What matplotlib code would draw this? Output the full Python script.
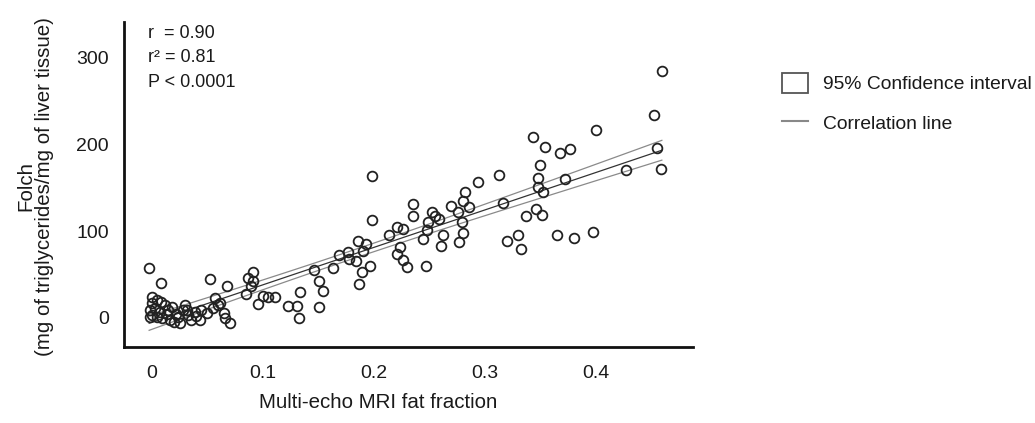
import numpy as np
import matplotlib
matplotlib.use('Agg')
import matplotlib.pyplot as plt
from matplotlib.patches import Patch
from matplotlib.lines import Line2D

plt.rcParams['font.family'] = ['Liberation Sans', 'DejaVu Sans']

# multi-echo MRI fat fraction vs Folch triglycerides
fat_fraction = [
    0.459, 0.452, 0.400, 0.343, 0.354, 0.367, 0.376, 0.349, 0.313, 0.455,
    0.458, 0.427, 0.372, 0.348, 0.348, 0.352, 0.316, 0.346, 0.351, 0.337,
    0.365, 0.380, 0.397, 0.330, 0.320, 0.332,
    0.198, 0.294, 0.282, 0.280, 0.269, 0.286, 0.276, 0.235, 0.235, 0.252,
    0.255, 0.259, 0.249, 0.248, 0.244, 0.198, 0.221, 0.226, 0.214, 0.279,
    0.280, 0.262, 0.277, 0.260, 0.224, 0.221, 0.226, 0.230, 0.247, 0.197,
    0.186, 0.193, 0.190, 0.177, 0.169, 0.178, 0.184, 0.189, 0.187, 0.163,
    0.146, 0.151, 0.154, 0.151, 0.134, 0.131, 0.123, 0.133, 0.091, 0.087,
    0.091, 0.090, 0.068, 0.085, 0.100, 0.105, 0.111, 0.096, 0.062, 0.065,
    0.071,
    -0.002, 0.009, 0.053, 0.001, 0.005, 0.009, 0.012, 0.001, -0.001, 0.001,
    -0.001, 0.005, 0.008, 0.015, 0.019, 0.010, 0.020, 0.024, 0.028, 0.030,
    0.033, 0.036, 0.026, 0.039, 0.045, 0.050, 0.055, 0.057, 0.060, 0.044,
    0.066, 0.003, 0.014, 0.017, 0.022, 0.032, 0.040,
]
folch = [
    284, 234, 216, 209, 197, 190, 195, 176, 165, 196,
    172, 170, 160, 161, 151, 145, 133, 125, 119, 117,
    96, 92, 99, 96, 89, 80,
    164, 157, 145, 135, 129, 128, 122, 131, 117, 122,
    118, 114, 110, 101, 91, 113, 105, 103, 96, 110,
    98, 95, 88, 83, 82, 74, 67, 59, 60, 60,
    89, 85, 77, 76, 73, 68, 66, 53, 39, 58,
    55, 42, 31, 13, 30, 14, 14, 0, 53, 46,
    43, 37, 37, 27, 25, 24, 24, 16, 17, 6,
    -6,
    58, 40, 45, 24, 21, 18, 15, 17, 9, 3,
    1, 1, 7, 9, 13, 0, -5, 1, 9, 15,
    3, -2, -6, 7, 9, 6, 12, 23, 15, -2,
    0, 12, 4, -2, 5, 9, 2,
]
stats_text = ['r  = 0.90', 'r\u00b2 = 0.81', 'P < 0.0001']
x_ticks = [0, 0.1, 0.2, 0.3, 0.4]
y_ticks = [0, 100, 200, 300]

x = np.array(fat_fraction)
y = np.array(folch)

# linear fit + 95% CI of the mean
n = len(x)
slope, icpt = np.polyfit(x, y, 1)
resid = y - (slope * x + icpt)
s = np.sqrt(np.sum(resid ** 2) / (n - 2))
xs = np.linspace(x.min(), x.max(), 100)
fit = slope * xs + icpt
se = s * np.sqrt(1.0 / n + (xs - x.mean()) ** 2 / np.sum((x - x.mean()) ** 2))
t = 1.98

W, H = 1035, 423
fig = plt.figure(figsize=(W / 100, H / 100), dpi=100)
ax = fig.add_axes([124 / W, 1 - 347 / H, (693 - 124) / W, (347 - 22) / H])

ax.plot(xs, fit + t * se, color='#8a8a8a', lw=0.9)
ax.plot(xs, fit - t * se, color='#8a8a8a', lw=0.9)
ax.plot(xs, fit, color='#333333', lw=0.9)
ax.plot(x, y, 'o', ms=7, mfc='none', mec='#222222', mew=1.3)

ax.set_xlim(-0.0246, 0.487)
ax.set_ylim(-33.5, 341)
ax.set_xticks(x_ticks)
ax.set_xticklabels(['0', '0.1', '0.2', '0.3', '0.4'])
ax.set_yticks(y_ticks)
ax.tick_params(length=0, labelsize=14, colors='#1a1a1a')
ax.tick_params(axis='x', pad=13)
ax.tick_params(axis='y', pad=11)

for side in ['top', 'right']:
    ax.spines[side].set_visible(False)
for side in ['left', 'bottom']:
    ax.spines[side].set_linewidth(2.0)
    ax.spines[side].set_color('#111111')

ax.set_xlabel('Multi-echo MRI fat fraction', fontsize=14.8, color='#1a1a1a')
ax.xaxis.set_label_coords(0.446, -0.14)
ax.set_ylabel('Folch\n(mg of triglycerides/mg of liver tissue)', fontsize=14.8,
              color='#1a1a1a', linespacing=1.0)
ax.yaxis.set_label_coords(-0.123, 0.495)

for i, txt in enumerate(stats_text):
    fig.text(148 / W, 1 - (34 + 24 * i) / H, txt, fontsize=13, va='center',
             color='#1a1a1a')

handles = [Patch(facecolor='white', edgecolor='#555555', lw=1.3),
           Line2D([], [], color='#888888', lw=1.5)]
fig.legend(handles, ['95% Confidence interval', 'Correlation line'],
           loc='upper left', bbox_to_anchor=(782 / W, 1 - 73 / H),
           frameon=False, fontsize=13.9, borderpad=0, borderaxespad=0,
           handlelength=1.35, handleheight=1.2, handletextpad=0.75,
           labelspacing=1.0, labelcolor='#1a1a1a')

fig.savefig('out.png', dpi=100)
